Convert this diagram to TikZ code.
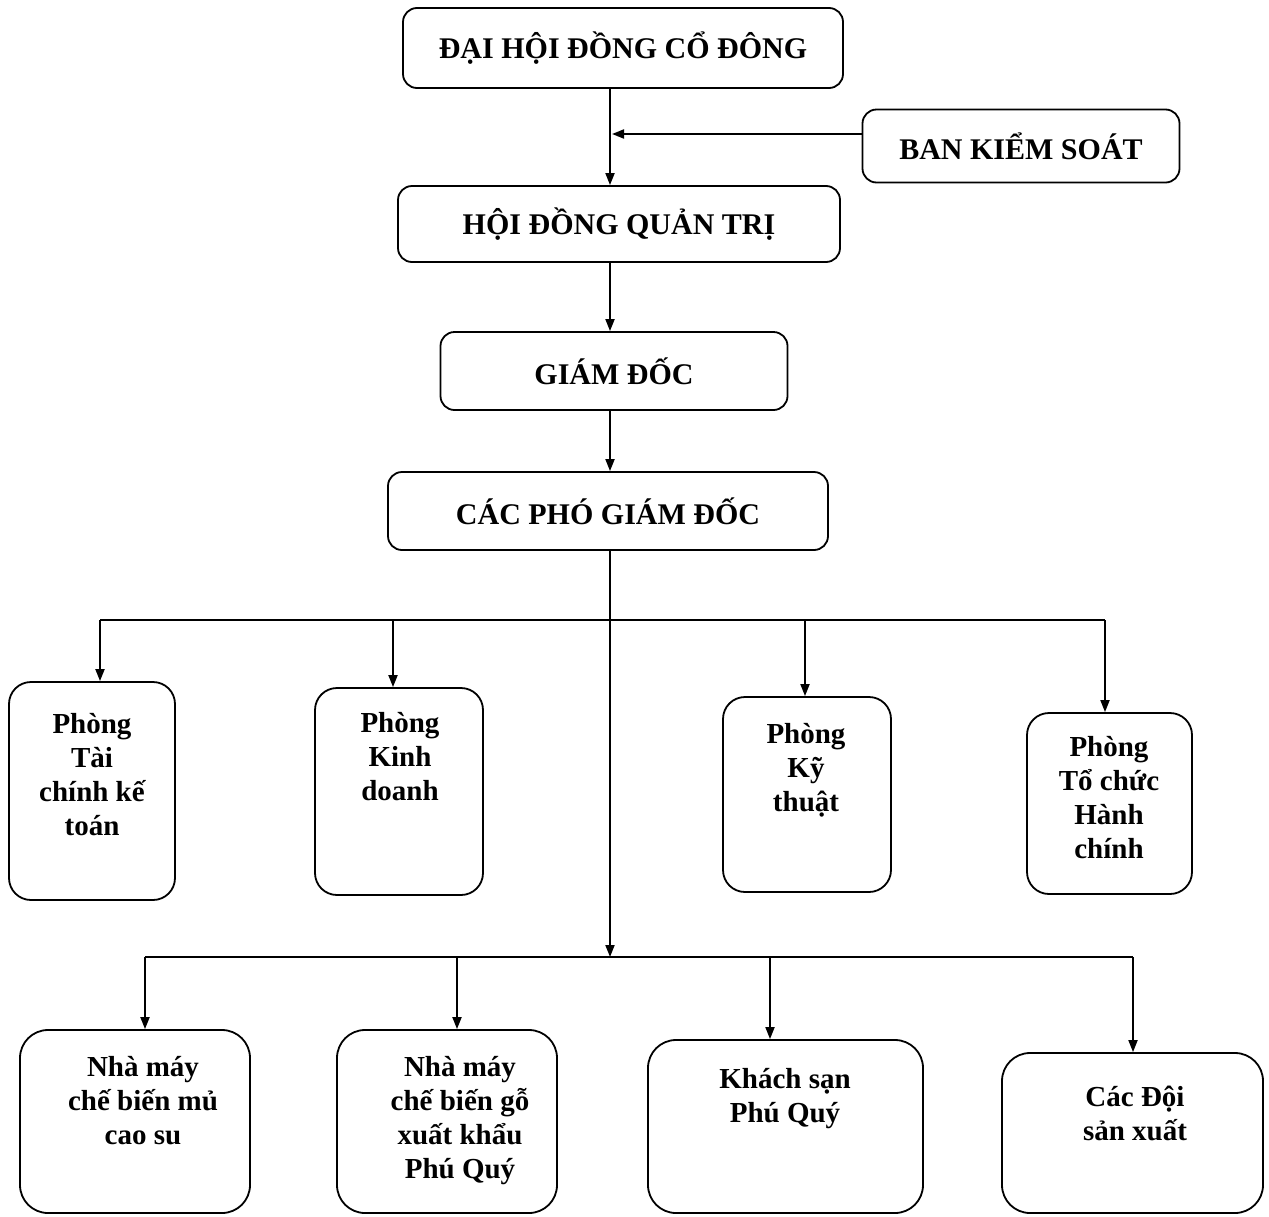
\documentclass[tikz,border=0pt]{standalone}
\usepackage{fontspec}
\setmainfont{Liberation Serif}
\usetikzlibrary{arrows.meta,fit}
\begin{document}
\begin{tikzpicture}[x=0.5pt,y=-0.5pt,
  line width=0.9pt,
  title/.style={draw, rounded corners=7pt, font=\bfseries\fontsize{15}{18}\selectfont, inner sep=0pt},
  dept/.style={draw, rounded corners=11pt, inner sep=0pt},
  unitbox/.style={draw, rounded corners=14pt, inner sep=0pt},
  lbl/.style={align=center, font=\bfseries\fontsize{14.5}{17}\selectfont, inner sep=0pt, anchor=north},
  arr/.style={-{Triangle[length=6pt,width=4.5pt]}}]
\fill[white] (0,0) rectangle (1269,1216);
\useasboundingbox (0,0) rectangle (1269,1216);

% top boxes
\node[title, minimum width=220pt, minimum height=40pt] (dhd) at (623,48) {ĐẠI HỘI ĐỒNG CỔ ĐÔNG};
\node[title, minimum width=158.5pt, minimum height=36.5pt] (bks) at (1021,146) {BAN KIỂM SOÁT};
\node[title, minimum width=221pt, minimum height=38pt] (hdqt) at (619,224) {HỘI ĐỒNG QUẢN TRỊ};
\node[title, minimum width=173.5pt, minimum height=39pt] (gd) at (614,371) {GIÁM ĐỐC};
\node[title, minimum width=220pt, minimum height=39pt] (cpgd) at (608,511) {CÁC PHÓ GIÁM ĐỐC};

% departments
\node[dept, fit={(9,682) (175,900)}] (tc) {};
\node[dept, fit={(315,688) (483,895)}] (kd) {};
\node[dept, fit={(723,697) (891,892)}] (kt) {};
\node[dept, fit={(1027,713) (1192,894)}] (tcc) {};
\node[lbl] (tc-t) at (92,712) {Phòng\\Tài\\chính kế\\toán};
\node[lbl] (kd-t) at (400,711) {Phòng\\Kinh\\doanh};
\node[lbl] (kt-t) at (806,722) {Phòng\\Kỹ\\thuật};
\node[lbl] (tcc-t) at (1109,735) {Phòng\\Tổ chức\\Hành\\chính};

% units
\node[unitbox, fit={(20,1030) (250,1213)}] (mu) {};
\node[unitbox, fit={(337,1030) (557,1213)}] (go) {};
\node[unitbox, fit={(648,1040) (923,1213)}] (ks) {};
\node[unitbox, fit={(1002,1053) (1263,1213)}] (doi) {};
\node[lbl] (mu-t) at (143,1055) {Nhà máy\\chế biến mủ\\cao su};
\node[lbl] (go-t) at (460,1055) {Nhà máy\\chế biến gỗ\\xuất khẩu\\Phú Quý};
\node[lbl] (ks-t) at (785,1067) {Khách sạn\\Phú Quý};
\node[lbl] (doi-t) at (1135,1085) {Các Đội\\sản xuất};

% helper coordinates
\coordinate (c1) at (610,0);
\coordinate (k) at (612,134);
\coordinate (b2) at (0,957);
\coordinate (u1) at (100,620);
\coordinate (u2) at (393,620);
\coordinate (u3) at (805,620);
\coordinate (u4) at (1105,620);
\coordinate (l1) at (145,957);
\coordinate (l2) at (457,957);
\coordinate (l3) at (770,957);
\coordinate (l4) at (1133,957);

% main chain
\draw[arr] (dhd.south -| c1) -- (hdqt.north -| c1);
\draw[arr] (bks.west |- k) -- (k);
\draw[arr] (hdqt.south -| c1) -- (gd.north -| c1);
\draw[arr] (gd.south -| c1) -- (cpgd.north -| c1);
\draw[arr] (cpgd.south -| c1) -- (c1 |- b2);

% buses
\draw (u1) -- (u4);
\draw (l1) -- (l4);
\draw[arr] (u1) -- (u1 |- tc.north);
\draw[arr] (u2) -- (u2 |- kd.north);
\draw[arr] (u3) -- (u3 |- kt.north);
\draw[arr] (u4) -- (u4 |- tcc.north);
\draw[arr] (l1) -- (l1 |- mu.north);
\draw[arr] (l2) -- (l2 |- go.north);
\draw[arr] (l3) -- (l3 |- ks.north);
\draw[arr] (l4) -- (l4 |- doi.north);
\end{tikzpicture}
\end{document}
